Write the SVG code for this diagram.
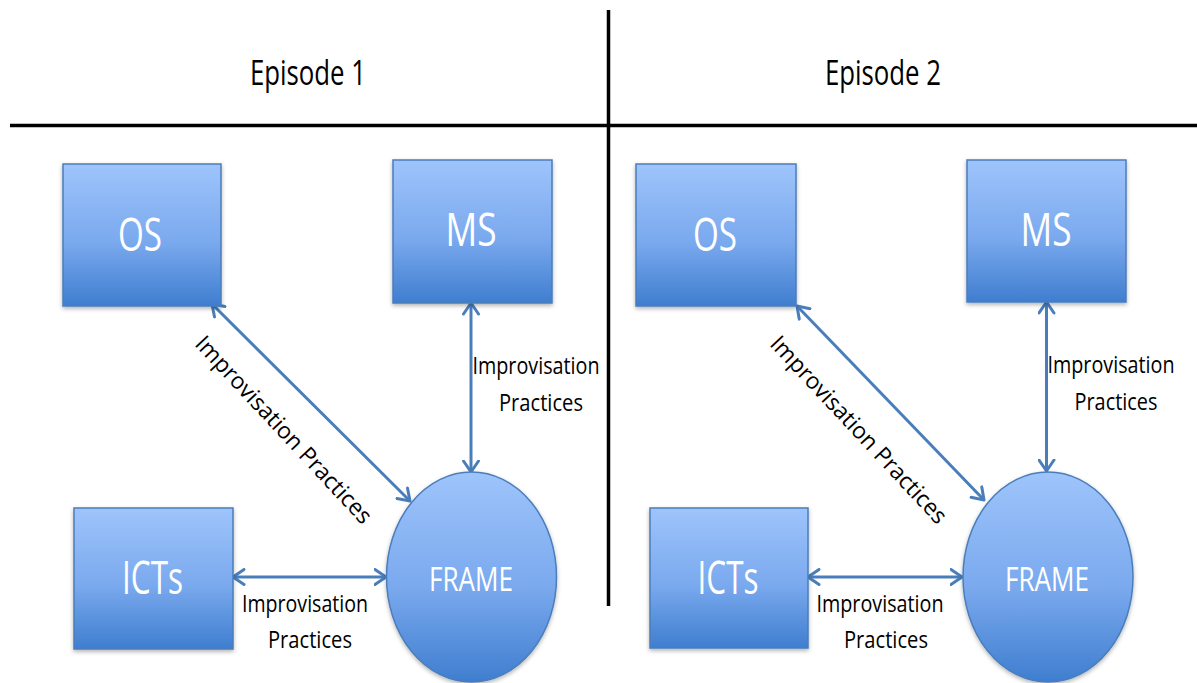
<svg xmlns="http://www.w3.org/2000/svg" width="1197" height="683" viewBox="0 0 1197 683">
  <defs>
    <linearGradient id="fillGrad" x1="0" y1="0" x2="0" y2="1">
      <stop offset="0" stop-color="#9EC4FB"/>
      <stop offset="0.55" stop-color="#7AA9EE"/>
      <stop offset="1" stop-color="#3F7ECF"/>
    </linearGradient>
    <filter id="shadow" x="-10%" y="-10%" width="120%" height="125%">
      <feDropShadow dx="0" dy="2" stdDeviation="2" flood-color="#000" flood-opacity="0.3"/>
    </filter>
    <marker id="arrow" viewBox="0 0 14 18" refX="12.5" refY="9" markerWidth="14" markerHeight="18" markerUnits="userSpaceOnUse" orient="auto-start-reverse">
      <path d="M1.5,1.5 L12.5,9 L1.5,16.5" fill="none" stroke="#4A7EBB" stroke-width="3" stroke-linecap="round" stroke-linejoin="round"/>
    </marker>
  </defs>
  <style>
    .box { fill: url(#fillGrad); stroke: #4A7EBB; stroke-width: 1.5; filter: url(#shadow); }
    .node-text { font-family: "Open Sans", "Liberation Sans", sans-serif; fill: #FFFFFF; text-anchor: middle; }
    .label { font-family: "Open Sans", "Liberation Sans", sans-serif; font-size: 23px; fill: #000000; text-anchor: middle; }
    .head { font-family: "Open Sans", "Liberation Sans", sans-serif; font-size: 35px; fill: #000000; text-anchor: middle; }
    .conn { stroke: #4A7EBB; stroke-width: 3; fill: none; marker-start: url(#arrow); marker-end: url(#arrow); }
    .divider { stroke: #000000; stroke-width: 3.5; }
  </style>
  <rect width="1197" height="683" fill="#FFFFFF"/>

  <g id="dividers">
    <line class="divider" x1="10" y1="125.5" x2="1197" y2="125.5"/>
    <line class="divider" x1="608.5" y1="10" x2="608.5" y2="606"/>
  </g>

  <g id="headers">
    <text class="head" x="308" y="85" textLength="116" lengthAdjust="spacingAndGlyphs">Episode 1</text>
    <text class="head" x="883" y="85" textLength="116" lengthAdjust="spacingAndGlyphs">Episode 2</text>
  </g>

  <g id="connectors">
    <line class="conn" x1="212" y1="304" x2="410" y2="501"/>
    <line class="conn" x1="471" y1="303" x2="471" y2="472"/>
    <line class="conn" x1="233" y1="577" x2="386" y2="577"/>
    <line class="conn" x1="797" y1="306" x2="984" y2="500"/>
    <line class="conn" x1="1046.5" y1="302" x2="1046.5" y2="471"/>
    <line class="conn" x1="808" y1="577" x2="962" y2="577"/>
  </g>

  <g id="connector-labels">
    <text class="label" transform="translate(278,435) rotate(47)" x="0" y="0" textLength="247" lengthAdjust="spacingAndGlyphs">Improvisation Practices</text>
    <text class="label" x="536" y="374" textLength="127" lengthAdjust="spacingAndGlyphs">Improvisation</text>
    <text class="label" x="541" y="411" textLength="84" lengthAdjust="spacingAndGlyphs">Practices</text>
    <text class="label" x="305" y="612" textLength="126" lengthAdjust="spacingAndGlyphs">Improvisation</text>
    <text class="label" x="310" y="648" textLength="84" lengthAdjust="spacingAndGlyphs">Practices</text>

    <text class="label" transform="translate(853,435) rotate(47)" x="0" y="0" textLength="247" lengthAdjust="spacingAndGlyphs">Improvisation Practices</text>
    <text class="label" x="1111" y="373" textLength="127" lengthAdjust="spacingAndGlyphs">Improvisation</text>
    <text class="label" x="1116" y="410" textLength="83" lengthAdjust="spacingAndGlyphs">Practices</text>
    <text class="label" x="880" y="612" textLength="127" lengthAdjust="spacingAndGlyphs">Improvisation</text>
    <text class="label" x="886" y="648" textLength="84" lengthAdjust="spacingAndGlyphs">Practices</text>
  </g>

  <g id="os-1">
    <rect class="box" x="63" y="164" width="158" height="142"/>
    <text class="node-text" x="140" y="251" font-size="45" textLength="44" lengthAdjust="spacingAndGlyphs">OS</text>
  </g>
  <g id="ms-1">
    <rect class="box" x="393" y="160" width="159" height="143"/>
    <text class="node-text" x="471" y="246" font-size="45" textLength="51" lengthAdjust="spacingAndGlyphs">MS</text>
  </g>
  <g id="icts-1">
    <rect class="box" x="74" y="508" width="159" height="141"/>
    <text class="node-text" x="152.5" y="594" font-size="46" textLength="61" lengthAdjust="spacingAndGlyphs">ICTs</text>
  </g>
  <g id="frame-1">
    <ellipse class="box" cx="471.5" cy="577" rx="85" ry="105"/>
    <text class="node-text" x="471" y="591" font-size="33" textLength="84" lengthAdjust="spacingAndGlyphs">FRAME</text>
  </g>

  <g id="os-2">
    <rect class="box" x="636" y="164" width="160" height="142"/>
    <text class="node-text" x="715" y="251" font-size="45" textLength="44" lengthAdjust="spacingAndGlyphs">OS</text>
  </g>
  <g id="ms-2">
    <rect class="box" x="967" y="160" width="159" height="142"/>
    <text class="node-text" x="1046" y="246" font-size="45" textLength="51" lengthAdjust="spacingAndGlyphs">MS</text>
  </g>
  <g id="icts-2">
    <rect class="box" x="650" y="508" width="158" height="140"/>
    <text class="node-text" x="728" y="594" font-size="46" textLength="61" lengthAdjust="spacingAndGlyphs">ICTs</text>
  </g>
  <g id="frame-2">
    <ellipse class="box" cx="1048" cy="577" rx="85" ry="105"/>
    <text class="node-text" x="1047" y="591" font-size="33" textLength="84" lengthAdjust="spacingAndGlyphs">FRAME</text>
  </g>
</svg>
